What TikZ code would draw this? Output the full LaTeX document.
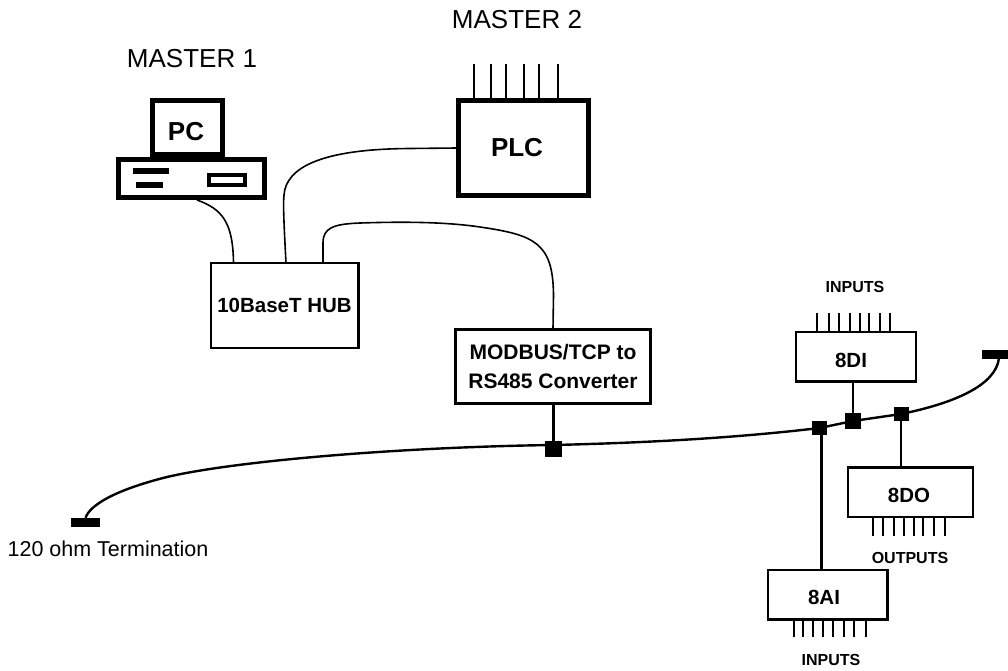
\documentclass[tikz,border=0pt]{standalone}
\usepackage{fontspec}
\setmainfont{Liberation Sans}
\usetikzlibrary{calc}
\tikzset{
  thickbox/.style={draw=black,line width=5pt,fill=white,inner sep=0pt,minimum width=#1},
  thinbox/.style={draw=black,line width=2.5pt,fill=white,inner sep=0pt,align=center,font=\fontsize{20.5}{29}\selectfont\bfseries},
  wire/.style={draw=black,line width=1.6pt},
  stub/.style={draw=black,line width=2.8pt},
  pin/.style={draw=black,line width=2.2pt},
  tap/.style={fill=black,draw=none,inner sep=0pt,minimum width=15pt,minimum height=14pt},
  term/.style={fill=black,draw=none,inner sep=0pt,minimum width=29pt,minimum height=9pt},
  bus/.style={draw=black,line width=2.4pt},
  small/.style={font=\fontsize{16}{18}\selectfont\bfseries,inner sep=0pt},
  big/.style={font=\fontsize{26}{28}\selectfont\bfseries,inner sep=0pt},
  plain/.style={inner sep=0pt}
}
\begin{document}
\begin{tikzpicture}[x=1pt,y=-1pt]
\useasboundingbox (0,0) rectangle (1008,670);
\fill[white] (0,0) rectangle (1008,670);
% labels
\node[plain,font=\fontsize{26}{28}\selectfont] (m1) at (192,59) {MASTER 1};
\node[plain,font=\fontsize{26}{28}\selectfont] (m2) at (517,20) {MASTER 2};
\node[plain,font=\fontsize{21.5}{24}\selectfont] (t120) at (108,549) {120 ohm Termination};
% PC
\node[thickbox=70pt,minimum height=53.5pt,big] (mon) at (187.5,127.25) {};
\node[big,inner sep=0pt] (pctxt) at (186,132) {PC};
\node[thickbox=146pt,minimum height=38pt] (base) at (191.5,178.5) {};
\node[fill=black,inner sep=0pt,minimum width=36pt,minimum height=6pt] (bar1) at (151,171) {};
\node[fill=black,inner sep=0pt,minimum width=27pt,minimum height=6pt] (bar2) at (149.5,185) {};
\node[draw=black,line width=4pt,fill=white,inner sep=0pt,minimum width=36pt,minimum height=10pt] (slot) at (227,180) {};
% PLC
\node[thickbox=130pt,minimum height=95pt] (plc) at (523.5,148) {};
\node[big] (plctxt) at (517,148) {PLC};
\foreach \i/\x in {1/474,2/491,3/506,4/524,5/539,6/558}{
  \coordinate (pp\i) at (\x,64);
  \draw[draw=black,line width=1.6pt] (pp\i) -- (pp\i |- plc.north);
}
% Hub
\node[thinbox,minimum width=147.5pt,minimum height=85pt] (hub) at (284.5,305.5) {10BaseT HUB};
% Converter
\node[thinbox,minimum width=195pt,minimum height=74pt,font=\fontsize{21}{29}\selectfont\bfseries] (conv) at (553,366.5) {MODBUS/TCP to\\RS485 Converter};
% wires
\coordinate (pcout) at (197,200);
\draw[wire] (pcout) .. controls (222,209) and (233,222) .. (233.5,263);
\coordinate (h1) at (286,263);
\draw[wire] (h1) .. controls (284,225) and (283,205) .. (284,195) .. controls (286,168) and (320,149) .. (410,148.5) -- (plc.west);
\draw[wire] (323,263) -- (323,243) .. controls (323,228) and (333,224) .. (360,223) .. controls (390,222) and (440,221) .. (480,227) .. controls (535,235) and (553,243) .. (553.5,295) -- (conv.north);
% Bus
\node[term] (tl) at (85.5,522.5) {};
\node[term,minimum width=26pt] (tr) at (995,354.5) {};
\node[tap,minimum width=17pt,minimum height=16pt] (t0) at (553.5,449) {};
\node[tap] (t1) at (819.5,428) {};
\node[tap,minimum width=16pt,minimum height=16pt] (t2) at (853,421) {};
\node[tap] (t3) at (901,414) {};
\coordinate (b0) at (553.5,445);
\draw[bus] (tl.north) .. controls (90,505) and (115,490) .. (167,477) .. controls (235,461) and (400,447) .. (b0) .. controls (680,442) and (760,435) .. (t1.center) -- (t2.center) -- (t3.center) .. controls (955,403) and (996,385) .. (999,358);
% DI
\node[thinbox,minimum width=120pt,minimum height=49.5pt,font=\fontsize{20.5}{24}\selectfont\bfseries] (di) at (856,356.5) {};
\node[plain,font=\fontsize{20.5}{24}\selectfont\bfseries] (ditxt) at (851,360) {8DI};
\foreach \i/\x in {1/817,2/829,3/839,4/850,5/860,6/869,7/880,8/890}{
  \coordinate (dp\i) at (\x,313);
  \draw[pin] (dp\i) -- (dp\i |- di.north);
}
\node[small] (dil) at (855,287) {INPUTS};
\draw[stub] (t2.center |- di.south) -- (t2.center);
% DO
\node[thinbox,minimum width=125pt,minimum height=49.5pt] (do) at (910.5,492) {};
\node[plain,font=\fontsize{20.5}{24}\selectfont\bfseries] (dotxt) at (909,495) {8DO};
\foreach \i/\x in {1/873,2/883,3/894,4/904,5/914,6/923,7/934,8/945}{
  \coordinate (op\i) at (\x,536);
  \draw[pin] (op\i) -- (op\i |- do.south);
}
\node[small] (dol) at (910,558) {OUTPUTS};
\draw[stub] (t3.center) -- (t3.center |- do.north);
% AI
\node[thinbox,minimum width=119.5pt,minimum height=49.5pt] (ai) at (827.5,594.5) {};
\node[plain,font=\fontsize{20.5}{24}\selectfont\bfseries] (aitxt) at (824,597) {8AI};
\foreach \i/\x in {1/794,2/803,3/813,4/823,5/833,6/844,7/854,8/866}{
  \coordinate (ap\i) at (\x,637);
  \draw[pin] (ap\i) -- (ap\i |- ai.south);
}
\node[small] (ail) at (831,660) {INPUTS};
\coordinate (s1) at (821.5,428);
\draw[stub] (s1) -- (s1 |- ai.north);
\draw[stub] (t0.center) -- (conv.south -| t0.center);
\end{tikzpicture}
\end{document}
